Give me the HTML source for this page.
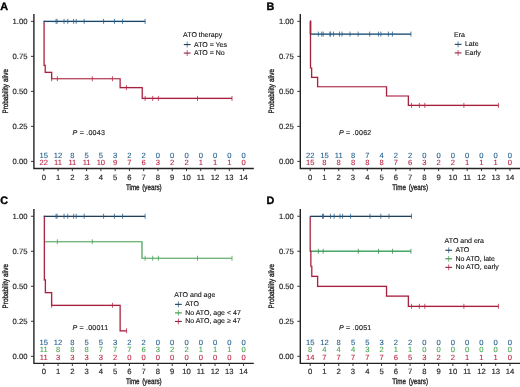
<!DOCTYPE html>
<html lang="en">
<head>
<meta charset="utf-8">
<title>Kaplan-Meier survival by ATO therapy, era and age</title>
<style>
html,body{margin:0;padding:0;background:#fff;}
body{width:520px;height:387px;overflow:hidden;}
svg{display:block;font-family:"Liberation Sans",Arial,Helvetica,sans-serif;text-rendering:geometricPrecision;}
.t{fill:#262626;stroke:#262626;stroke-width:0.17px;}
.b{stroke-width:0.33px;fill:#1c1c1c;stroke:#1c1c1c;}
.l{fill:#111;stroke:#111;stroke-width:0.12px;}
</style>
</head>
<body>
<svg width="520" height="387" viewBox="0 0 520 387">
<rect width="520" height="387" fill="#fff"/>
<g transform="translate(0 0)">
<text x="0.2" y="9.5" font-size="10.8" font-weight="bold" fill="#000" stroke="#000" stroke-width="0.35">A</text>
<path d="M43.8 21.35H44.09V65.47H45.23V72.33H51.65V78.77H120.14V87.59H142.26V98.38H232.02" stroke="#e02450" stroke-opacity="0.12" stroke-width="2.2" fill="none" stroke-linejoin="miter"/><path d="M43.8 21.35H44.09V65.47H45.23V72.33H51.65V78.77H120.14V87.59H142.26V98.38H232.02" stroke="#a3223f" stroke-width="1.2" fill="none" stroke-linejoin="miter"/>
<path d="M51.65 76.27v5M57.36 76.27v5M92.32 76.27v5M112.44 76.27v5" stroke="#ba2646" stroke-width="0.8" fill="none"/>
<path d="M126.42 85.09v5" stroke="#ba2646" stroke-width="0.8" fill="none"/>
<path d="M145.12 95.88v5M152.68 95.88v5M158.39 95.88v5M197.49 95.88v5M232.02 95.88v5" stroke="#ba2646" stroke-width="0.8" fill="none"/>
<path d="M43.8 21.35H145.12" stroke="#2a7ab8" stroke-opacity="0.12" stroke-width="2.2" fill="none" stroke-linejoin="miter"/><path d="M43.8 21.35H145.12" stroke="#1c4666" stroke-width="1.2" fill="none" stroke-linejoin="miter"/>
<path d="M56.07 18.85v5M57.07 18.85v5M64.06 18.85v5M67.77 18.85v5M73.62 18.85v5M76.19 18.85v5M84.18 18.85v5M103.59 18.85v5M114.44 18.85v5M122.57 18.85v5M145.12 18.85v5" stroke="#25608f" stroke-width="0.8" fill="none"/>
<path d="M33.9 14.1V168.5H253.8" stroke="#222" stroke-width="1.4" fill="none" stroke-linecap="butt" stroke-linejoin="miter"/>
<text x="27.5" y="164" font-size="7.7" text-anchor="end" class="t">0.00</text>
<text x="27.5" y="128.99" font-size="7.7" text-anchor="end" class="t">0.25</text>
<text x="27.5" y="93.97" font-size="7.7" text-anchor="end" class="t">0.50</text>
<text x="27.5" y="58.96" font-size="7.7" text-anchor="end" class="t">0.75</text>
<text x="27.5" y="23.95" font-size="7.7" text-anchor="end" class="t">1.00</text>
<text x="43.8" y="179.5" font-size="7.7" text-anchor="middle" class="t">0</text>
<text x="58.07" y="179.5" font-size="7.7" text-anchor="middle" class="t">1</text>
<text x="72.34" y="179.5" font-size="7.7" text-anchor="middle" class="t">2</text>
<text x="86.61" y="179.5" font-size="7.7" text-anchor="middle" class="t">3</text>
<text x="100.88" y="179.5" font-size="7.7" text-anchor="middle" class="t">4</text>
<text x="115.15" y="179.5" font-size="7.7" text-anchor="middle" class="t">5</text>
<text x="129.42" y="179.5" font-size="7.7" text-anchor="middle" class="t">6</text>
<text x="143.69" y="179.5" font-size="7.7" text-anchor="middle" class="t">7</text>
<text x="157.96" y="179.5" font-size="7.7" text-anchor="middle" class="t">8</text>
<text x="172.23" y="179.5" font-size="7.7" text-anchor="middle" class="t">9</text>
<text x="186.5" y="179.5" font-size="7.7" text-anchor="middle" class="t">10</text>
<text x="200.77" y="179.5" font-size="7.7" text-anchor="middle" class="t">11</text>
<text x="215.04" y="179.5" font-size="7.7" text-anchor="middle" class="t">12</text>
<text x="229.31" y="179.5" font-size="7.7" text-anchor="middle" class="t">13</text>
<text x="243.58" y="179.5" font-size="7.7" text-anchor="middle" class="t">14</text>
<path d="M33.9 161.4h-3M33.9 126.39h-3M33.9 91.38h-3M33.9 56.36h-3M33.9 21.35h-3M43.8 168.5v2.6M58.07 168.5v2.6M72.34 168.5v2.6M86.61 168.5v2.6M100.88 168.5v2.6M115.15 168.5v2.6M129.42 168.5v2.6M143.69 168.5v2.6M157.96 168.5v2.6M172.23 168.5v2.6M186.5 168.5v2.6M200.77 168.5v2.6M215.04 168.5v2.6M229.31 168.5v2.6M243.58 168.5v2.6" stroke="#222" stroke-width="0.9" fill="none"/>
<text transform="translate(143.8 189.5) scale(0.78 1)" font-size="8" word-spacing="1.2" text-anchor="middle" class="t b">Time (years)</text>
<text transform="translate(7.9 91.3) rotate(-90) scale(0.8 1)" font-size="7.9" word-spacing="0.3" text-anchor="middle" class="t b">Probability alive</text>
<text x="72.5" y="135.3" font-size="7.1" class="t" textLength="32.4" lengthAdjust="spacing"><tspan font-style="italic">P</tspan> = .0043</text>
<text x="43.8" y="157.6" font-size="7.6" text-anchor="middle" fill="#25608f" stroke="#25608f" stroke-width="0.1">15</text>
<text x="58.07" y="157.6" font-size="7.6" text-anchor="middle" fill="#25608f" stroke="#25608f" stroke-width="0.1">12</text>
<text x="72.34" y="157.6" font-size="7.6" text-anchor="middle" fill="#25608f" stroke="#25608f" stroke-width="0.1">8</text>
<text x="86.61" y="157.6" font-size="7.6" text-anchor="middle" fill="#25608f" stroke="#25608f" stroke-width="0.1">5</text>
<text x="100.88" y="157.6" font-size="7.6" text-anchor="middle" fill="#25608f" stroke="#25608f" stroke-width="0.1">5</text>
<text x="115.15" y="157.6" font-size="7.6" text-anchor="middle" fill="#25608f" stroke="#25608f" stroke-width="0.1">3</text>
<text x="129.42" y="157.6" font-size="7.6" text-anchor="middle" fill="#25608f" stroke="#25608f" stroke-width="0.1">2</text>
<text x="143.69" y="157.6" font-size="7.6" text-anchor="middle" fill="#25608f" stroke="#25608f" stroke-width="0.1">2</text>
<text x="157.96" y="157.6" font-size="7.6" text-anchor="middle" fill="#25608f" stroke="#25608f" stroke-width="0.1">0</text>
<text x="172.23" y="157.6" font-size="7.6" text-anchor="middle" fill="#25608f" stroke="#25608f" stroke-width="0.1">0</text>
<text x="186.5" y="157.6" font-size="7.6" text-anchor="middle" fill="#25608f" stroke="#25608f" stroke-width="0.1">0</text>
<text x="200.77" y="157.6" font-size="7.6" text-anchor="middle" fill="#25608f" stroke="#25608f" stroke-width="0.1">0</text>
<text x="215.04" y="157.6" font-size="7.6" text-anchor="middle" fill="#25608f" stroke="#25608f" stroke-width="0.1">0</text>
<text x="229.31" y="157.6" font-size="7.6" text-anchor="middle" fill="#25608f" stroke="#25608f" stroke-width="0.1">0</text>
<text x="243.58" y="157.6" font-size="7.6" text-anchor="middle" fill="#25608f" stroke="#25608f" stroke-width="0.1">0</text>
<text x="43.8" y="165.4" font-size="7.6" text-anchor="middle" fill="#ba2646" stroke="#ba2646" stroke-width="0.1">22</text>
<text x="58.07" y="165.4" font-size="7.6" text-anchor="middle" fill="#ba2646" stroke="#ba2646" stroke-width="0.1">11</text>
<text x="72.34" y="165.4" font-size="7.6" text-anchor="middle" fill="#ba2646" stroke="#ba2646" stroke-width="0.1">11</text>
<text x="86.61" y="165.4" font-size="7.6" text-anchor="middle" fill="#ba2646" stroke="#ba2646" stroke-width="0.1">11</text>
<text x="100.88" y="165.4" font-size="7.6" text-anchor="middle" fill="#ba2646" stroke="#ba2646" stroke-width="0.1">10</text>
<text x="115.15" y="165.4" font-size="7.6" text-anchor="middle" fill="#ba2646" stroke="#ba2646" stroke-width="0.1">9</text>
<text x="129.42" y="165.4" font-size="7.6" text-anchor="middle" fill="#ba2646" stroke="#ba2646" stroke-width="0.1">7</text>
<text x="143.69" y="165.4" font-size="7.6" text-anchor="middle" fill="#ba2646" stroke="#ba2646" stroke-width="0.1">6</text>
<text x="157.96" y="165.4" font-size="7.6" text-anchor="middle" fill="#ba2646" stroke="#ba2646" stroke-width="0.1">3</text>
<text x="172.23" y="165.4" font-size="7.6" text-anchor="middle" fill="#ba2646" stroke="#ba2646" stroke-width="0.1">2</text>
<text x="186.5" y="165.4" font-size="7.6" text-anchor="middle" fill="#ba2646" stroke="#ba2646" stroke-width="0.1">2</text>
<text x="200.77" y="165.4" font-size="7.6" text-anchor="middle" fill="#ba2646" stroke="#ba2646" stroke-width="0.1">1</text>
<text x="215.04" y="165.4" font-size="7.6" text-anchor="middle" fill="#ba2646" stroke="#ba2646" stroke-width="0.1">1</text>
<text x="229.31" y="165.4" font-size="7.6" text-anchor="middle" fill="#ba2646" stroke="#ba2646" stroke-width="0.1">1</text>
<text x="243.58" y="165.4" font-size="7.6" text-anchor="middle" fill="#ba2646" stroke="#ba2646" stroke-width="0.1">0</text>
<text x="183.1" y="37.1" font-size="7" class="l">ATO therapy</text>
<path d="M187.2 41.65v5.8" stroke="#25608f" stroke-width="0.75" fill="none"/><path d="M183.8 44.55h6.8" stroke="#1f3f5a" stroke-width="1.1" fill="none"/>
<text x="194" y="46.55" font-size="7" class="l">ATO = Yes</text>
<path d="M187.2 50.2v5.8" stroke="#ba2646" stroke-width="0.75" fill="none"/><path d="M183.8 53.1h6.8" stroke="#8e2342" stroke-width="1.1" fill="none"/>
<text x="194" y="55.1" font-size="7" class="l">ATO = No</text>
</g>
<g transform="translate(266.4 0)">
<text x="0.2" y="9.5" font-size="10.8" font-weight="bold" fill="#000" stroke="#000" stroke-width="0.35">B</text>
<path d="M43.8 21.35H44.09V67.99H45.23V77.37H51.22V86.75H120.14V96H141.98V105.38H232.02" stroke="#e02450" stroke-opacity="0.12" stroke-width="2.2" fill="none" stroke-linejoin="miter"/><path d="M43.8 21.35H44.09V67.99H45.23V77.37H51.22V86.75H120.14V96H141.98V105.38H232.02" stroke="#a3223f" stroke-width="1.2" fill="none" stroke-linejoin="miter"/>
<path d="M145.12 102.88v5M152.97 102.88v5M158.39 102.88v5M197.49 102.88v5M232.02 102.88v5" stroke="#ba2646" stroke-width="0.8" fill="none"/>
<path d="M43.8 21.35H44.09V34.09H144.55" stroke="#2a7ab8" stroke-opacity="0.12" stroke-width="2.2" fill="none" stroke-linejoin="miter"/><path d="M43.8 21.35H44.09V34.09H144.55" stroke="#1c4666" stroke-width="1.2" fill="none" stroke-linejoin="miter"/>
<path d="M51.93 31.59v5M55.36 31.59v5M56.79 31.59v5M63.49 31.59v5M64.21 31.59v5M67.06 31.59v5M73.05 31.59v5M75.62 31.59v5M83.61 31.59v5M91.75 31.59v5M103.31 31.59v5M112.01 31.59v5M114.44 31.59v5M122 31.59v5M126 31.59v5M144.55 31.59v5" stroke="#25608f" stroke-width="0.8" fill="none"/>
<path d="M43.8 21.35H44.09V34.09" stroke="#e02450" stroke-opacity="0.12" stroke-width="2.2" fill="none" stroke-linejoin="miter"/><path d="M43.8 21.35H44.09V34.09" stroke="#a3223f" stroke-width="1.2" fill="none" stroke-linejoin="miter"/>
<path d="M33.9 14.1V168.5H253.8" stroke="#222" stroke-width="1.4" fill="none" stroke-linecap="butt" stroke-linejoin="miter"/>
<text x="27.5" y="164" font-size="7.7" text-anchor="end" class="t">0.00</text>
<text x="27.5" y="128.99" font-size="7.7" text-anchor="end" class="t">0.25</text>
<text x="27.5" y="93.97" font-size="7.7" text-anchor="end" class="t">0.50</text>
<text x="27.5" y="58.96" font-size="7.7" text-anchor="end" class="t">0.75</text>
<text x="27.5" y="23.95" font-size="7.7" text-anchor="end" class="t">1.00</text>
<text x="43.8" y="179.5" font-size="7.7" text-anchor="middle" class="t">0</text>
<text x="58.07" y="179.5" font-size="7.7" text-anchor="middle" class="t">1</text>
<text x="72.34" y="179.5" font-size="7.7" text-anchor="middle" class="t">2</text>
<text x="86.61" y="179.5" font-size="7.7" text-anchor="middle" class="t">3</text>
<text x="100.88" y="179.5" font-size="7.7" text-anchor="middle" class="t">4</text>
<text x="115.15" y="179.5" font-size="7.7" text-anchor="middle" class="t">5</text>
<text x="129.42" y="179.5" font-size="7.7" text-anchor="middle" class="t">6</text>
<text x="143.69" y="179.5" font-size="7.7" text-anchor="middle" class="t">7</text>
<text x="157.96" y="179.5" font-size="7.7" text-anchor="middle" class="t">8</text>
<text x="172.23" y="179.5" font-size="7.7" text-anchor="middle" class="t">9</text>
<text x="186.5" y="179.5" font-size="7.7" text-anchor="middle" class="t">10</text>
<text x="200.77" y="179.5" font-size="7.7" text-anchor="middle" class="t">11</text>
<text x="215.04" y="179.5" font-size="7.7" text-anchor="middle" class="t">12</text>
<text x="229.31" y="179.5" font-size="7.7" text-anchor="middle" class="t">13</text>
<text x="243.58" y="179.5" font-size="7.7" text-anchor="middle" class="t">14</text>
<path d="M33.9 161.4h-3M33.9 126.39h-3M33.9 91.38h-3M33.9 56.36h-3M33.9 21.35h-3M43.8 168.5v2.6M58.07 168.5v2.6M72.34 168.5v2.6M86.61 168.5v2.6M100.88 168.5v2.6M115.15 168.5v2.6M129.42 168.5v2.6M143.69 168.5v2.6M157.96 168.5v2.6M172.23 168.5v2.6M186.5 168.5v2.6M200.77 168.5v2.6M215.04 168.5v2.6M229.31 168.5v2.6M243.58 168.5v2.6" stroke="#222" stroke-width="0.9" fill="none"/>
<text transform="translate(143.8 189.5) scale(0.78 1)" font-size="8" word-spacing="1.2" text-anchor="middle" class="t b">Time (years)</text>
<text transform="translate(7.9 91.3) rotate(-90) scale(0.8 1)" font-size="7.9" word-spacing="0.3" text-anchor="middle" class="t b">Probability alive</text>
<text x="72.5" y="135.3" font-size="7.1" class="t" textLength="32.4" lengthAdjust="spacing"><tspan font-style="italic">P</tspan> = .0062</text>
<text x="43.8" y="157.6" font-size="7.6" text-anchor="middle" fill="#25608f" stroke="#25608f" stroke-width="0.1">22</text>
<text x="58.07" y="157.6" font-size="7.6" text-anchor="middle" fill="#25608f" stroke="#25608f" stroke-width="0.1">15</text>
<text x="72.34" y="157.6" font-size="7.6" text-anchor="middle" fill="#25608f" stroke="#25608f" stroke-width="0.1">11</text>
<text x="86.61" y="157.6" font-size="7.6" text-anchor="middle" fill="#25608f" stroke="#25608f" stroke-width="0.1">8</text>
<text x="100.88" y="157.6" font-size="7.6" text-anchor="middle" fill="#25608f" stroke="#25608f" stroke-width="0.1">7</text>
<text x="115.15" y="157.6" font-size="7.6" text-anchor="middle" fill="#25608f" stroke="#25608f" stroke-width="0.1">4</text>
<text x="129.42" y="157.6" font-size="7.6" text-anchor="middle" fill="#25608f" stroke="#25608f" stroke-width="0.1">2</text>
<text x="143.69" y="157.6" font-size="7.6" text-anchor="middle" fill="#25608f" stroke="#25608f" stroke-width="0.1">2</text>
<text x="157.96" y="157.6" font-size="7.6" text-anchor="middle" fill="#25608f" stroke="#25608f" stroke-width="0.1">0</text>
<text x="172.23" y="157.6" font-size="7.6" text-anchor="middle" fill="#25608f" stroke="#25608f" stroke-width="0.1">0</text>
<text x="186.5" y="157.6" font-size="7.6" text-anchor="middle" fill="#25608f" stroke="#25608f" stroke-width="0.1">0</text>
<text x="200.77" y="157.6" font-size="7.6" text-anchor="middle" fill="#25608f" stroke="#25608f" stroke-width="0.1">0</text>
<text x="215.04" y="157.6" font-size="7.6" text-anchor="middle" fill="#25608f" stroke="#25608f" stroke-width="0.1">0</text>
<text x="229.31" y="157.6" font-size="7.6" text-anchor="middle" fill="#25608f" stroke="#25608f" stroke-width="0.1">0</text>
<text x="243.58" y="157.6" font-size="7.6" text-anchor="middle" fill="#25608f" stroke="#25608f" stroke-width="0.1">0</text>
<text x="43.8" y="165.4" font-size="7.6" text-anchor="middle" fill="#ba2646" stroke="#ba2646" stroke-width="0.1">15</text>
<text x="58.07" y="165.4" font-size="7.6" text-anchor="middle" fill="#ba2646" stroke="#ba2646" stroke-width="0.1">8</text>
<text x="72.34" y="165.4" font-size="7.6" text-anchor="middle" fill="#ba2646" stroke="#ba2646" stroke-width="0.1">8</text>
<text x="86.61" y="165.4" font-size="7.6" text-anchor="middle" fill="#ba2646" stroke="#ba2646" stroke-width="0.1">8</text>
<text x="100.88" y="165.4" font-size="7.6" text-anchor="middle" fill="#ba2646" stroke="#ba2646" stroke-width="0.1">8</text>
<text x="115.15" y="165.4" font-size="7.6" text-anchor="middle" fill="#ba2646" stroke="#ba2646" stroke-width="0.1">8</text>
<text x="129.42" y="165.4" font-size="7.6" text-anchor="middle" fill="#ba2646" stroke="#ba2646" stroke-width="0.1">7</text>
<text x="143.69" y="165.4" font-size="7.6" text-anchor="middle" fill="#ba2646" stroke="#ba2646" stroke-width="0.1">6</text>
<text x="157.96" y="165.4" font-size="7.6" text-anchor="middle" fill="#ba2646" stroke="#ba2646" stroke-width="0.1">3</text>
<text x="172.23" y="165.4" font-size="7.6" text-anchor="middle" fill="#ba2646" stroke="#ba2646" stroke-width="0.1">2</text>
<text x="186.5" y="165.4" font-size="7.6" text-anchor="middle" fill="#ba2646" stroke="#ba2646" stroke-width="0.1">2</text>
<text x="200.77" y="165.4" font-size="7.6" text-anchor="middle" fill="#ba2646" stroke="#ba2646" stroke-width="0.1">1</text>
<text x="215.04" y="165.4" font-size="7.6" text-anchor="middle" fill="#ba2646" stroke="#ba2646" stroke-width="0.1">1</text>
<text x="229.31" y="165.4" font-size="7.6" text-anchor="middle" fill="#ba2646" stroke="#ba2646" stroke-width="0.1">1</text>
<text x="243.58" y="165.4" font-size="7.6" text-anchor="middle" fill="#ba2646" stroke="#ba2646" stroke-width="0.1">0</text>
<text x="187.6" y="36.9" font-size="7" class="l">Era</text>
<path d="M191.7 41.45v5.8" stroke="#25608f" stroke-width="0.75" fill="none"/><path d="M188.3 44.35h6.8" stroke="#1f3f5a" stroke-width="1.1" fill="none"/>
<text x="198.5" y="46.35" font-size="7" class="l">Late</text>
<path d="M191.7 50v5.8" stroke="#ba2646" stroke-width="0.75" fill="none"/><path d="M188.3 52.9h6.8" stroke="#8e2342" stroke-width="1.1" fill="none"/>
<text x="198.5" y="54.9" font-size="7" class="l">Early</text>
</g>
<g transform="translate(0 194.9)">
<text x="0.2" y="9.5" font-size="10.8" font-weight="bold" fill="#000" stroke="#000" stroke-width="0.35">C</text>
<path d="M44.09 46.84H141.98V63.37H232.02" stroke="#3fc04f" stroke-opacity="0.12" stroke-width="2.2" fill="none" stroke-linejoin="miter"/><path d="M44.09 46.84H141.98V63.37H232.02" stroke="#52a05f" stroke-width="1.2" fill="none" stroke-linejoin="miter"/>
<path d="M57.36 44.34v5M92.32 44.34v5" stroke="#46a552" stroke-width="0.8" fill="none"/>
<path d="M145.12 60.87v5M152.68 60.87v5M158.39 60.87v5M197.49 60.87v5M232.02 60.87v5" stroke="#46a552" stroke-width="0.8" fill="none"/>
<path d="M43.8 21.35H44.37V85.07H45.37V97.68H51.65V110.42H120.14V135.91H126.57" stroke="#e02450" stroke-opacity="0.12" stroke-width="2.2" fill="none" stroke-linejoin="miter"/><path d="M43.8 21.35H44.37V85.07H45.37V97.68H51.65V110.42H120.14V135.91H126.57" stroke="#a3223f" stroke-width="1.2" fill="none" stroke-linejoin="miter"/>
<path d="M51.65 107.92v5M112.44 107.92v5" stroke="#ba2646" stroke-width="0.8" fill="none"/>
<path d="M126.57 133.41v5" stroke="#ba2646" stroke-width="0.8" fill="none"/>
<path d="M43.8 21.35H145.12" stroke="#2a7ab8" stroke-opacity="0.12" stroke-width="2.2" fill="none" stroke-linejoin="miter"/><path d="M43.8 21.35H145.12" stroke="#243f56" stroke-width="1.25" fill="none" stroke-linejoin="miter"/>
<path d="M56.07 18.85v5M57.07 18.85v5M64.06 18.85v5M67.77 18.85v5M73.62 18.85v5M76.19 18.85v5M84.18 18.85v5M103.59 18.85v5M114.44 18.85v5M122.57 18.85v5M145.12 18.85v5" stroke="#25608f" stroke-width="0.8" fill="none"/>
<path d="M33.9 14.1V168.5H253.8" stroke="#222" stroke-width="1.4" fill="none" stroke-linecap="butt" stroke-linejoin="miter"/>
<text x="27.5" y="164" font-size="7.7" text-anchor="end" class="t">0.00</text>
<text x="27.5" y="128.99" font-size="7.7" text-anchor="end" class="t">0.25</text>
<text x="27.5" y="93.97" font-size="7.7" text-anchor="end" class="t">0.50</text>
<text x="27.5" y="58.96" font-size="7.7" text-anchor="end" class="t">0.75</text>
<text x="27.5" y="23.95" font-size="7.7" text-anchor="end" class="t">1.00</text>
<text x="43.8" y="179.5" font-size="7.7" text-anchor="middle" class="t">0</text>
<text x="58.07" y="179.5" font-size="7.7" text-anchor="middle" class="t">1</text>
<text x="72.34" y="179.5" font-size="7.7" text-anchor="middle" class="t">2</text>
<text x="86.61" y="179.5" font-size="7.7" text-anchor="middle" class="t">3</text>
<text x="100.88" y="179.5" font-size="7.7" text-anchor="middle" class="t">4</text>
<text x="115.15" y="179.5" font-size="7.7" text-anchor="middle" class="t">5</text>
<text x="129.42" y="179.5" font-size="7.7" text-anchor="middle" class="t">6</text>
<text x="143.69" y="179.5" font-size="7.7" text-anchor="middle" class="t">7</text>
<text x="157.96" y="179.5" font-size="7.7" text-anchor="middle" class="t">8</text>
<text x="172.23" y="179.5" font-size="7.7" text-anchor="middle" class="t">9</text>
<text x="186.5" y="179.5" font-size="7.7" text-anchor="middle" class="t">10</text>
<text x="200.77" y="179.5" font-size="7.7" text-anchor="middle" class="t">11</text>
<text x="215.04" y="179.5" font-size="7.7" text-anchor="middle" class="t">12</text>
<text x="229.31" y="179.5" font-size="7.7" text-anchor="middle" class="t">13</text>
<text x="243.58" y="179.5" font-size="7.7" text-anchor="middle" class="t">14</text>
<path d="M33.9 161.4h-3M33.9 126.39h-3M33.9 91.38h-3M33.9 56.36h-3M33.9 21.35h-3M43.8 168.5v2.6M58.07 168.5v2.6M72.34 168.5v2.6M86.61 168.5v2.6M100.88 168.5v2.6M115.15 168.5v2.6M129.42 168.5v2.6M143.69 168.5v2.6M157.96 168.5v2.6M172.23 168.5v2.6M186.5 168.5v2.6M200.77 168.5v2.6M215.04 168.5v2.6M229.31 168.5v2.6M243.58 168.5v2.6" stroke="#222" stroke-width="0.9" fill="none"/>
<text transform="translate(143.8 189.5) scale(0.78 1)" font-size="8" word-spacing="1.2" text-anchor="middle" class="t b">Time (years)</text>
<text transform="translate(7.9 91.3) rotate(-90) scale(0.8 1)" font-size="7.9" word-spacing="0.3" text-anchor="middle" class="t b">Probability alive</text>
<text x="72.5" y="135.3" font-size="7.1" class="t" textLength="35.6" lengthAdjust="spacing"><tspan font-style="italic">P</tspan> = .00011</text>
<text x="43.8" y="150.1" font-size="7.6" text-anchor="middle" fill="#25608f" stroke="#25608f" stroke-width="0.1">15</text>
<text x="58.07" y="150.1" font-size="7.6" text-anchor="middle" fill="#25608f" stroke="#25608f" stroke-width="0.1">12</text>
<text x="72.34" y="150.1" font-size="7.6" text-anchor="middle" fill="#25608f" stroke="#25608f" stroke-width="0.1">8</text>
<text x="86.61" y="150.1" font-size="7.6" text-anchor="middle" fill="#25608f" stroke="#25608f" stroke-width="0.1">5</text>
<text x="100.88" y="150.1" font-size="7.6" text-anchor="middle" fill="#25608f" stroke="#25608f" stroke-width="0.1">5</text>
<text x="115.15" y="150.1" font-size="7.6" text-anchor="middle" fill="#25608f" stroke="#25608f" stroke-width="0.1">3</text>
<text x="129.42" y="150.1" font-size="7.6" text-anchor="middle" fill="#25608f" stroke="#25608f" stroke-width="0.1">2</text>
<text x="143.69" y="150.1" font-size="7.6" text-anchor="middle" fill="#25608f" stroke="#25608f" stroke-width="0.1">2</text>
<text x="157.96" y="150.1" font-size="7.6" text-anchor="middle" fill="#25608f" stroke="#25608f" stroke-width="0.1">0</text>
<text x="172.23" y="150.1" font-size="7.6" text-anchor="middle" fill="#25608f" stroke="#25608f" stroke-width="0.1">0</text>
<text x="186.5" y="150.1" font-size="7.6" text-anchor="middle" fill="#25608f" stroke="#25608f" stroke-width="0.1">0</text>
<text x="200.77" y="150.1" font-size="7.6" text-anchor="middle" fill="#25608f" stroke="#25608f" stroke-width="0.1">0</text>
<text x="215.04" y="150.1" font-size="7.6" text-anchor="middle" fill="#25608f" stroke="#25608f" stroke-width="0.1">0</text>
<text x="229.31" y="150.1" font-size="7.6" text-anchor="middle" fill="#25608f" stroke="#25608f" stroke-width="0.1">0</text>
<text x="243.58" y="150.1" font-size="7.6" text-anchor="middle" fill="#25608f" stroke="#25608f" stroke-width="0.1">0</text>
<text x="43.8" y="157.6" font-size="7.6" text-anchor="middle" fill="#46a552" stroke="#46a552" stroke-width="0.1">11</text>
<text x="58.07" y="157.6" font-size="7.6" text-anchor="middle" fill="#46a552" stroke="#46a552" stroke-width="0.1">8</text>
<text x="72.34" y="157.6" font-size="7.6" text-anchor="middle" fill="#46a552" stroke="#46a552" stroke-width="0.1">8</text>
<text x="86.61" y="157.6" font-size="7.6" text-anchor="middle" fill="#46a552" stroke="#46a552" stroke-width="0.1">8</text>
<text x="100.88" y="157.6" font-size="7.6" text-anchor="middle" fill="#46a552" stroke="#46a552" stroke-width="0.1">7</text>
<text x="115.15" y="157.6" font-size="7.6" text-anchor="middle" fill="#46a552" stroke="#46a552" stroke-width="0.1">7</text>
<text x="129.42" y="157.6" font-size="7.6" text-anchor="middle" fill="#46a552" stroke="#46a552" stroke-width="0.1">7</text>
<text x="143.69" y="157.6" font-size="7.6" text-anchor="middle" fill="#46a552" stroke="#46a552" stroke-width="0.1">6</text>
<text x="157.96" y="157.6" font-size="7.6" text-anchor="middle" fill="#46a552" stroke="#46a552" stroke-width="0.1">3</text>
<text x="172.23" y="157.6" font-size="7.6" text-anchor="middle" fill="#46a552" stroke="#46a552" stroke-width="0.1">2</text>
<text x="186.5" y="157.6" font-size="7.6" text-anchor="middle" fill="#46a552" stroke="#46a552" stroke-width="0.1">2</text>
<text x="200.77" y="157.6" font-size="7.6" text-anchor="middle" fill="#46a552" stroke="#46a552" stroke-width="0.1">1</text>
<text x="215.04" y="157.6" font-size="7.6" text-anchor="middle" fill="#46a552" stroke="#46a552" stroke-width="0.1">1</text>
<text x="229.31" y="157.6" font-size="7.6" text-anchor="middle" fill="#46a552" stroke="#46a552" stroke-width="0.1">1</text>
<text x="243.58" y="157.6" font-size="7.6" text-anchor="middle" fill="#46a552" stroke="#46a552" stroke-width="0.1">0</text>
<text x="43.8" y="165.1" font-size="7.6" text-anchor="middle" fill="#ba2646" stroke="#ba2646" stroke-width="0.1">11</text>
<text x="58.07" y="165.1" font-size="7.6" text-anchor="middle" fill="#ba2646" stroke="#ba2646" stroke-width="0.1">3</text>
<text x="72.34" y="165.1" font-size="7.6" text-anchor="middle" fill="#ba2646" stroke="#ba2646" stroke-width="0.1">3</text>
<text x="86.61" y="165.1" font-size="7.6" text-anchor="middle" fill="#ba2646" stroke="#ba2646" stroke-width="0.1">3</text>
<text x="100.88" y="165.1" font-size="7.6" text-anchor="middle" fill="#ba2646" stroke="#ba2646" stroke-width="0.1">3</text>
<text x="115.15" y="165.1" font-size="7.6" text-anchor="middle" fill="#ba2646" stroke="#ba2646" stroke-width="0.1">2</text>
<text x="129.42" y="165.1" font-size="7.6" text-anchor="middle" fill="#ba2646" stroke="#ba2646" stroke-width="0.1">0</text>
<text x="143.69" y="165.1" font-size="7.6" text-anchor="middle" fill="#ba2646" stroke="#ba2646" stroke-width="0.1">0</text>
<text x="157.96" y="165.1" font-size="7.6" text-anchor="middle" fill="#ba2646" stroke="#ba2646" stroke-width="0.1">0</text>
<text x="172.23" y="165.1" font-size="7.6" text-anchor="middle" fill="#ba2646" stroke="#ba2646" stroke-width="0.1">0</text>
<text x="186.5" y="165.1" font-size="7.6" text-anchor="middle" fill="#ba2646" stroke="#ba2646" stroke-width="0.1">0</text>
<text x="200.77" y="165.1" font-size="7.6" text-anchor="middle" fill="#ba2646" stroke="#ba2646" stroke-width="0.1">0</text>
<text x="215.04" y="165.1" font-size="7.6" text-anchor="middle" fill="#ba2646" stroke="#ba2646" stroke-width="0.1">0</text>
<text x="229.31" y="165.1" font-size="7.6" text-anchor="middle" fill="#ba2646" stroke="#ba2646" stroke-width="0.1">0</text>
<text x="243.58" y="165.1" font-size="7.6" text-anchor="middle" fill="#ba2646" stroke="#ba2646" stroke-width="0.1">0</text>
<text x="174.3" y="102" font-size="7" class="l">ATO and age</text>
<path d="M178.4 106.55v5.8" stroke="#25608f" stroke-width="0.75" fill="none"/><path d="M175 109.45h6.8" stroke="#1f3f5a" stroke-width="1.1" fill="none"/>
<text x="185.2" y="111.45" font-size="7" class="l">ATO</text>
<path d="M178.4 115.1v5.8" stroke="#46a552" stroke-width="0.75" fill="none"/><path d="M175 118h6.8" stroke="#3f8a4c" stroke-width="1.1" fill="none"/>
<text x="185.2" y="120" font-size="7" class="l">No ATO, age &lt; 47</text>
<path d="M178.4 123.65v5.8" stroke="#ba2646" stroke-width="0.75" fill="none"/><path d="M175 126.55h6.8" stroke="#8e2342" stroke-width="1.1" fill="none"/>
<text x="185.2" y="128.55" font-size="7" class="l">No ATO, age ≥ 47</text>
</g>
<g transform="translate(266.4 194.9)">
<text x="0.2" y="9.5" font-size="10.8" font-weight="bold" fill="#000" stroke="#000" stroke-width="0.35">D</text>
<path d="M43.8 56.36H144.55" stroke="#3fc04f" stroke-opacity="0.12" stroke-width="2.2" fill="none" stroke-linejoin="miter"/><path d="M43.8 56.36H144.55" stroke="#49a86c" stroke-width="1.3" fill="none" stroke-linejoin="miter"/>
<path d="M51.93 53.86v5M56.79 53.86v5M91.89 53.86v5M112.15 53.86v5M126.14 53.86v5M144.55 53.86v5" stroke="#3f8f4c" stroke-width="0.8" fill="none"/>
<path d="M43.8 21.35H43.8V56.36H44.44V71.35H45.37V81.43H51.22V91.38H120.14V101.32H141.98V111.4H232.02" stroke="#e02450" stroke-opacity="0.12" stroke-width="2.2" fill="none" stroke-linejoin="miter"/><path d="M43.8 21.35H43.8V56.36H44.44V71.35H45.37V81.43H51.22V91.38H120.14V101.32H141.98V111.4H232.02" stroke="#a3223f" stroke-width="1.2" fill="none" stroke-linejoin="miter"/>
<path d="M145.12 108.9v5M152.97 108.9v5M158.39 108.9v5M197.49 108.9v5M232.02 108.9v5" stroke="#ba2646" stroke-width="0.8" fill="none"/>
<path d="M43.8 21.35H145.12" stroke="#2a7ab8" stroke-opacity="0.12" stroke-width="2.2" fill="none" stroke-linejoin="miter"/><path d="M43.8 21.35H145.12" stroke="#243f56" stroke-width="1.25" fill="none" stroke-linejoin="miter"/>
<path d="M56.07 18.85v5M57.07 18.85v5M64.06 18.85v5M67.77 18.85v5M73.62 18.85v5M76.19 18.85v5M84.18 18.85v5M103.59 18.85v5M114.44 18.85v5M122.57 18.85v5M145.12 18.85v5" stroke="#25608f" stroke-width="0.8" fill="none"/>
<path d="M33.9 14.1V168.5H253.8" stroke="#222" stroke-width="1.4" fill="none" stroke-linecap="butt" stroke-linejoin="miter"/>
<text x="27.5" y="164" font-size="7.7" text-anchor="end" class="t">0.00</text>
<text x="27.5" y="128.99" font-size="7.7" text-anchor="end" class="t">0.25</text>
<text x="27.5" y="93.97" font-size="7.7" text-anchor="end" class="t">0.50</text>
<text x="27.5" y="58.96" font-size="7.7" text-anchor="end" class="t">0.75</text>
<text x="27.5" y="23.95" font-size="7.7" text-anchor="end" class="t">1.00</text>
<text x="43.8" y="179.5" font-size="7.7" text-anchor="middle" class="t">0</text>
<text x="58.07" y="179.5" font-size="7.7" text-anchor="middle" class="t">1</text>
<text x="72.34" y="179.5" font-size="7.7" text-anchor="middle" class="t">2</text>
<text x="86.61" y="179.5" font-size="7.7" text-anchor="middle" class="t">3</text>
<text x="100.88" y="179.5" font-size="7.7" text-anchor="middle" class="t">4</text>
<text x="115.15" y="179.5" font-size="7.7" text-anchor="middle" class="t">5</text>
<text x="129.42" y="179.5" font-size="7.7" text-anchor="middle" class="t">6</text>
<text x="143.69" y="179.5" font-size="7.7" text-anchor="middle" class="t">7</text>
<text x="157.96" y="179.5" font-size="7.7" text-anchor="middle" class="t">8</text>
<text x="172.23" y="179.5" font-size="7.7" text-anchor="middle" class="t">9</text>
<text x="186.5" y="179.5" font-size="7.7" text-anchor="middle" class="t">10</text>
<text x="200.77" y="179.5" font-size="7.7" text-anchor="middle" class="t">11</text>
<text x="215.04" y="179.5" font-size="7.7" text-anchor="middle" class="t">12</text>
<text x="229.31" y="179.5" font-size="7.7" text-anchor="middle" class="t">13</text>
<text x="243.58" y="179.5" font-size="7.7" text-anchor="middle" class="t">14</text>
<path d="M33.9 161.4h-3M33.9 126.39h-3M33.9 91.38h-3M33.9 56.36h-3M33.9 21.35h-3M43.8 168.5v2.6M58.07 168.5v2.6M72.34 168.5v2.6M86.61 168.5v2.6M100.88 168.5v2.6M115.15 168.5v2.6M129.42 168.5v2.6M143.69 168.5v2.6M157.96 168.5v2.6M172.23 168.5v2.6M186.5 168.5v2.6M200.77 168.5v2.6M215.04 168.5v2.6M229.31 168.5v2.6M243.58 168.5v2.6" stroke="#222" stroke-width="0.9" fill="none"/>
<text transform="translate(143.8 189.5) scale(0.78 1)" font-size="8" word-spacing="1.2" text-anchor="middle" class="t b">Time (years)</text>
<text transform="translate(7.9 91.3) rotate(-90) scale(0.8 1)" font-size="7.9" word-spacing="0.3" text-anchor="middle" class="t b">Probability alive</text>
<text x="72.5" y="135.3" font-size="7.1" class="t" textLength="32.4" lengthAdjust="spacing"><tspan font-style="italic">P</tspan> = .0051</text>
<text x="43.8" y="150.1" font-size="7.6" text-anchor="middle" fill="#25608f" stroke="#25608f" stroke-width="0.1">15</text>
<text x="58.07" y="150.1" font-size="7.6" text-anchor="middle" fill="#25608f" stroke="#25608f" stroke-width="0.1">12</text>
<text x="72.34" y="150.1" font-size="7.6" text-anchor="middle" fill="#25608f" stroke="#25608f" stroke-width="0.1">8</text>
<text x="86.61" y="150.1" font-size="7.6" text-anchor="middle" fill="#25608f" stroke="#25608f" stroke-width="0.1">5</text>
<text x="100.88" y="150.1" font-size="7.6" text-anchor="middle" fill="#25608f" stroke="#25608f" stroke-width="0.1">5</text>
<text x="115.15" y="150.1" font-size="7.6" text-anchor="middle" fill="#25608f" stroke="#25608f" stroke-width="0.1">3</text>
<text x="129.42" y="150.1" font-size="7.6" text-anchor="middle" fill="#25608f" stroke="#25608f" stroke-width="0.1">2</text>
<text x="143.69" y="150.1" font-size="7.6" text-anchor="middle" fill="#25608f" stroke="#25608f" stroke-width="0.1">2</text>
<text x="157.96" y="150.1" font-size="7.6" text-anchor="middle" fill="#25608f" stroke="#25608f" stroke-width="0.1">0</text>
<text x="172.23" y="150.1" font-size="7.6" text-anchor="middle" fill="#25608f" stroke="#25608f" stroke-width="0.1">0</text>
<text x="186.5" y="150.1" font-size="7.6" text-anchor="middle" fill="#25608f" stroke="#25608f" stroke-width="0.1">0</text>
<text x="200.77" y="150.1" font-size="7.6" text-anchor="middle" fill="#25608f" stroke="#25608f" stroke-width="0.1">0</text>
<text x="215.04" y="150.1" font-size="7.6" text-anchor="middle" fill="#25608f" stroke="#25608f" stroke-width="0.1">0</text>
<text x="229.31" y="150.1" font-size="7.6" text-anchor="middle" fill="#25608f" stroke="#25608f" stroke-width="0.1">0</text>
<text x="243.58" y="150.1" font-size="7.6" text-anchor="middle" fill="#25608f" stroke="#25608f" stroke-width="0.1">0</text>
<text x="43.8" y="157.6" font-size="7.6" text-anchor="middle" fill="#46a552" stroke="#46a552" stroke-width="0.1">8</text>
<text x="58.07" y="157.6" font-size="7.6" text-anchor="middle" fill="#46a552" stroke="#46a552" stroke-width="0.1">4</text>
<text x="72.34" y="157.6" font-size="7.6" text-anchor="middle" fill="#46a552" stroke="#46a552" stroke-width="0.1">4</text>
<text x="86.61" y="157.6" font-size="7.6" text-anchor="middle" fill="#46a552" stroke="#46a552" stroke-width="0.1">4</text>
<text x="100.88" y="157.6" font-size="7.6" text-anchor="middle" fill="#46a552" stroke="#46a552" stroke-width="0.1">3</text>
<text x="115.15" y="157.6" font-size="7.6" text-anchor="middle" fill="#46a552" stroke="#46a552" stroke-width="0.1">2</text>
<text x="129.42" y="157.6" font-size="7.6" text-anchor="middle" fill="#46a552" stroke="#46a552" stroke-width="0.1">1</text>
<text x="143.69" y="157.6" font-size="7.6" text-anchor="middle" fill="#46a552" stroke="#46a552" stroke-width="0.1">1</text>
<text x="157.96" y="157.6" font-size="7.6" text-anchor="middle" fill="#46a552" stroke="#46a552" stroke-width="0.1">0</text>
<text x="172.23" y="157.6" font-size="7.6" text-anchor="middle" fill="#46a552" stroke="#46a552" stroke-width="0.1">0</text>
<text x="186.5" y="157.6" font-size="7.6" text-anchor="middle" fill="#46a552" stroke="#46a552" stroke-width="0.1">0</text>
<text x="200.77" y="157.6" font-size="7.6" text-anchor="middle" fill="#46a552" stroke="#46a552" stroke-width="0.1">0</text>
<text x="215.04" y="157.6" font-size="7.6" text-anchor="middle" fill="#46a552" stroke="#46a552" stroke-width="0.1">0</text>
<text x="229.31" y="157.6" font-size="7.6" text-anchor="middle" fill="#46a552" stroke="#46a552" stroke-width="0.1">0</text>
<text x="243.58" y="157.6" font-size="7.6" text-anchor="middle" fill="#46a552" stroke="#46a552" stroke-width="0.1">0</text>
<text x="43.8" y="165.1" font-size="7.6" text-anchor="middle" fill="#ba2646" stroke="#ba2646" stroke-width="0.1">14</text>
<text x="58.07" y="165.1" font-size="7.6" text-anchor="middle" fill="#ba2646" stroke="#ba2646" stroke-width="0.1">7</text>
<text x="72.34" y="165.1" font-size="7.6" text-anchor="middle" fill="#ba2646" stroke="#ba2646" stroke-width="0.1">7</text>
<text x="86.61" y="165.1" font-size="7.6" text-anchor="middle" fill="#ba2646" stroke="#ba2646" stroke-width="0.1">7</text>
<text x="100.88" y="165.1" font-size="7.6" text-anchor="middle" fill="#ba2646" stroke="#ba2646" stroke-width="0.1">7</text>
<text x="115.15" y="165.1" font-size="7.6" text-anchor="middle" fill="#ba2646" stroke="#ba2646" stroke-width="0.1">7</text>
<text x="129.42" y="165.1" font-size="7.6" text-anchor="middle" fill="#ba2646" stroke="#ba2646" stroke-width="0.1">6</text>
<text x="143.69" y="165.1" font-size="7.6" text-anchor="middle" fill="#ba2646" stroke="#ba2646" stroke-width="0.1">5</text>
<text x="157.96" y="165.1" font-size="7.6" text-anchor="middle" fill="#ba2646" stroke="#ba2646" stroke-width="0.1">3</text>
<text x="172.23" y="165.1" font-size="7.6" text-anchor="middle" fill="#ba2646" stroke="#ba2646" stroke-width="0.1">2</text>
<text x="186.5" y="165.1" font-size="7.6" text-anchor="middle" fill="#ba2646" stroke="#ba2646" stroke-width="0.1">2</text>
<text x="200.77" y="165.1" font-size="7.6" text-anchor="middle" fill="#ba2646" stroke="#ba2646" stroke-width="0.1">1</text>
<text x="215.04" y="165.1" font-size="7.6" text-anchor="middle" fill="#ba2646" stroke="#ba2646" stroke-width="0.1">1</text>
<text x="229.31" y="165.1" font-size="7.6" text-anchor="middle" fill="#ba2646" stroke="#ba2646" stroke-width="0.1">1</text>
<text x="243.58" y="165.1" font-size="7.6" text-anchor="middle" fill="#ba2646" stroke="#ba2646" stroke-width="0.1">0</text>
<text x="178.2" y="47.9" font-size="7" class="l">ATO and era</text>
<path d="M182.3 52.45v5.8" stroke="#25608f" stroke-width="0.75" fill="none"/><path d="M178.9 55.35h6.8" stroke="#1f3f5a" stroke-width="1.1" fill="none"/>
<text x="189.1" y="57.35" font-size="7" class="l">ATO</text>
<path d="M182.3 61v5.8" stroke="#46a552" stroke-width="0.75" fill="none"/><path d="M178.9 63.9h6.8" stroke="#3f8a4c" stroke-width="1.1" fill="none"/>
<text x="189.1" y="65.9" font-size="7" class="l">No ATO, late</text>
<path d="M182.3 69.55v5.8" stroke="#ba2646" stroke-width="0.75" fill="none"/><path d="M178.9 72.45h6.8" stroke="#8e2342" stroke-width="1.1" fill="none"/>
<text x="189.1" y="74.45" font-size="7" class="l">No ATO, early</text>
</g>
</svg>
</body>
</html>
